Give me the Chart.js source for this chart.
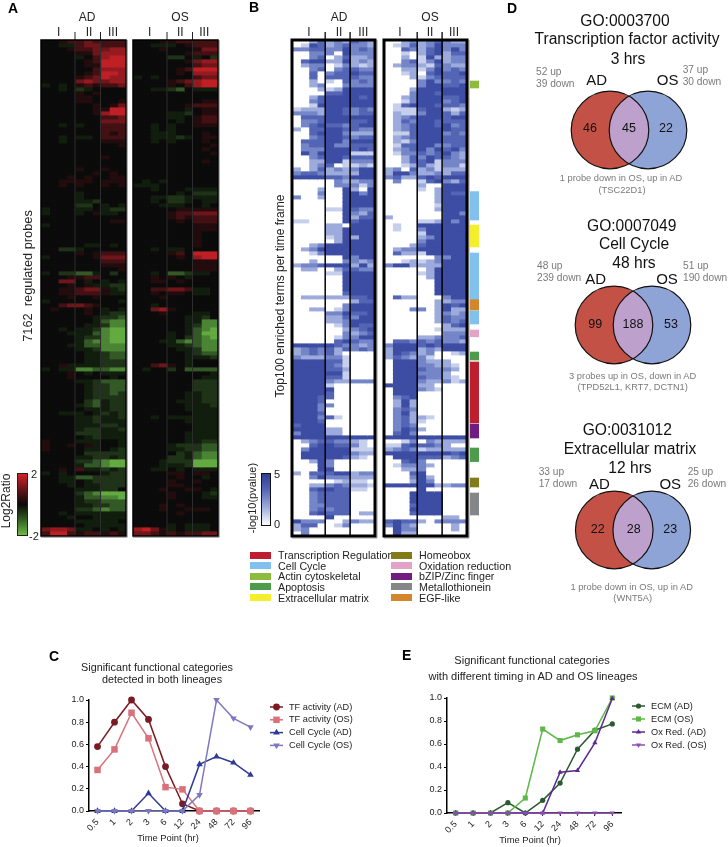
<!DOCTYPE html>
<html>
<head>
<meta charset="utf-8">
<title>Regulated probes and enriched terms</title>
<script src="https://cdn.jsdelivr.net/npm/chart.js@4"></script>
<style>
html, body { margin: 0; padding: 0; background: #fff; }
#page { position: relative; width: 728px; height: 847px; overflow: hidden; font-family: "Liberation Sans", Arial, sans-serif; color: #222; filter: blur(0.35px); }
#page canvas { position: absolute; }
.lbl { position: absolute; white-space: pre; line-height: 1; }
.box { position: absolute; }
</style>
</head>
<body>
<div id="page"></div>
<script>
// Time points shared by every panel
const timePoints = ["0.5", "1", "2", "3", "6", "12", "24", "48", "72", "96"];

// Panel A: log2 ratio per probe block, one char per time point
// "." = 0, 1-5 = up (red), a-e = down (green)
const adRatioRows = [
  "..12232222", "..aa233222", "...1223344", "....113444", "....a.2455", ".....12555", ".....11555", "......2444",
  ".....12554", "....123544", "....343344", "a.a.121223", "..a.ba....", "....1.1...", "....11....", "....11...1",
  "......1.13", "......1155", "......1455", ".......223", ".......333", "..a.a..222", ".......222", ".......212",
  "..a.aa.222", "..a....111", ".........1", "..........", "..........", ".......1..", "..........", "..........",
  "....1..1..", "......1.1.", "...1.1..11", "..1111.111", "..1.1..1.1", "..........", "....a.....", "....a.....",
  "....aab...", "....bb.a.a", "a...aa.abb", "a...a.1aa.", "..........", "........11", "a.........", "..........",
  "..........", "..........", "..........", ".....aa.a.", "..bba.....", "....1.1222", "a.....1333", ".......222",
  ".......111", ".........1", "a.bbcca.b.", "...1122...", "..33.a.a.a", "...1.1aabb", "..112331ab", "..112221aa",
  "...1..1...", "a........a", "..23321...", ".1...1.a.a", ".....1.abb", "......abbc", "......acdd", ".....aabdd",
  "..a.aabdee", "...aaacdee", "....abbdee", "....acddee", "...aaccddd", "....aabddd", ".....aabcc", ".....aabcc",
  ".....aabbb", "..1aaaabbb", "a.aaddccdd", "...1.a.aaa", "...1....a.", "....aabccc", ".....abbcc", ".....abbcc",
  ".....abbcb", ".....abbbb", ".....bcabb", "....abcabb", ".....aaabb", "..aaa.abab", "....aabaab", "....aabaaa",
  "....aaabba", "....abbaab", "....bbbaaa", ".....abaaa", "1...aaa..a", "1..1.1a..a", "1....aa.ab", ".....bbbbb",
  "....aabbab", "....bbcdee", "....accdee", "..1.2aabab", "a.a....abb", "..aaccbbbb", "..aa.abbbb", "...a.aabbb",
  "....aaabb.", "....bcdeee", "....accdde", "....abbccc", "....aabbcc", "....bbcdcc", "..a.aaaaaa", "...a..aaaa",
  "....aaaaa.", ".....aaaaa", "3443aa.a.a", "2552122121"
];
const osRatioRows = [
  "...1122222", "..aaa.1222", "...1...133", "......1222", "....bb.a.b", "......1344", ".......233", ".....12555",
  ".....1.444", "a.a....233", "....123455", "....1.2455", "..aabc.aaa", "..........", "..........", "........11",
  "......1222", "......a.11", "....aab.11", "....aa.122", ".....a.122", "..a.a..111", "..a.a.....", "..aaa...1.",
  "..aaaba.11", "..a.a...1.", ".........1", "........1.", ".........1", "..........", "........1.", "..........",
  "..........", "..........", "..........", ".a.a......", "aaa.......", "..a...aaaa", ".....a.bbb", "..aabbaaaa",
  "..a.bba.aa", "...aaa..a.", ".....11111", "....122333", "....121222", ".....1.222", ".......111", ".......111",
  ".......1..", ".......1..", ".......1..", ".......1..", "..a.aa....", "....12.555", ".....1.455", ".......111",
  ".......111", ".......111", "..a.ccbaa.", "..1.1.a...", "..11.1....", "..........", "..22332aa.", "..1.11.aa.",
  "...1......", "..........", "..a.......", "..341.....", "...1...aa.", "......aab.", "......aadd", "......abdd",
  "......acde", "....a.acee", "....a.bcde", "...aacdcdd", "....aabcdd", ".....aabdd", "......abcc", "......aaab",
  "......a...", "..231.a...", ".a..b.cccc", ".........a", "........aa", ".......bbb", ".......bbb", ".......bbb",
  "......aabb", "......aabb", ".....aaabb", "......aaab", "......aaaa", ".......aaa", "..a.aaaaaa", "......aaaa",
  ".......aaa", ".......aaa", "......aaaa", "......aaaa", "......aabb", "....abbbcc", "....aabbcc", ".....bacdd",
  "....bbacdd", "...abbbeee", "...aaabeee", "..aa.a.aaa", "....11.11.", ".....1..a.", "....1..1..", "....11....",
  "...1..11.a", "....1...ab", "....1...aa", "..........", "...1.1....", "...1..111.", ".....1....", "..........",
  "..........", "....a.aaa.", "4531a.aaa.", "3321212233"
];

// Panel B: -log10(pvalue) per term block, 0-5
const adPvalueRows = [
  "0024232432", "0154234332", "3344335343", "0033305333", "0034024223", "0455225232", "0233013212", "0034034433",
  "0040344544", "0040444433", "0020104343", "0023003333", "0002125555", "0000445555", "0024555545", "0034555555",
  "0015555555", "1222554343", "3332554344", "0444555555", "0334555445", "0345443455", "2044554433", "0045553222",
  "0034554344", "0444553555", "0344533444", "0333555454", "0535555111", "0034554444", "0022551333", "0023401121",
  "2024232355", "3443222255", "5555443555", "0000032233", "0000033313", "0002005205", "0003005535", "3002005555",
  "0000005555", "0000005555", "0000115433", "0000005324", "0000005244", "1100005455", "0000220555", "0000225555",
  "0000225555", "0000125255", "0000025555", "0023555555", "0235555555", "0013555555", "0000005355", "0020003323",
  "2334555252", "0220024433", "0000115555", "0000005555", "0000005555", "0000005555", "0000005555", "0000004555",
  "0222222445", "0000000244", "0000003555", "0022013555", "0000335445", "0000224355", "0000223555", "0000013544",
  "0000002345", "0000003234", "0000013355", "0000045433", "5555543323", "2343424343", "2343420000", "3222331000",
  "5555441000", "5555431000", "5555442000", "5555551000", "5555441000", "5555322333", "5555100000", "5555500000",
  "5555400000", "5554400000", "5554000000", "5553300000", "5553000000", "5554000000", "5553410000", "5554000000",
  "4555000000", "5555220000", "3555220000", "5555555555", "0234433210", "0045544310", "0355555111", "0555555322",
  "0555554210", "0025300000", "0005300000", "0005500000", "2044455233", "0035333222", "0000012110", "0022343221",
  "0045544110", "0034444000", "0034444000", "0034444000", "0033444000", "0034344000", "0045444022", "0000500000",
  "5333002322", "2440013000", "2300000000", "0300000000"
];
const osPvalueRows = [
  "0023234322", "0124235333", "0043245353", "0010245244", "0020152233", "0034135233", "0233214322", "0022135343",
  "0012045445", "0002134444", "0000353343", "0000355445", "0002555555", "0003554555", "0023555445", "0013555345",
  "0145554443", "0111455212", "0211355424", "0234555455", "0243554444", "0234554534", "0234555544", "0114555343",
  "0234555444", "0213555444", "0144553344", "0234535453", "0133434532", "0024354432", "0024451333", "0012421331",
  "2304231222", "2553223244", "3422454555", "0300145324", "0000200555", "0000102555", "0000002544", "0000002555",
  "0000002555", "0000001555", "0000002555", "0000000553", "2000000555", "0000112535", "0100555555", "0100355555",
  "0000155555", "0000235555", "0000355555", "0002455555", "0233555555", "0422155555", "0000003355", "0012123555",
  "3552222555", "0000025555", "0000125555", "0000025555", "0000005555", "0000005555", "0000005555", "0000005555",
  "0422000355", "0000002233", "0000002545", "0003302522", "0000002323", "0000002433", "0000002434", "0000000245",
  "0000001222", "0000000333", "0000223334", "0443434332", "3555454555", "2555232555", "2543230012", "2432310000",
  "0555322200", "0555332210", "0555433320", "0555333200", "0555433210", "0555322312", "5555220000", "0555321000",
  "0555000000", "0345000000", "0252000000", "0252000000", "0343000000", "0352000000", "0342210000", "0342100000",
  "0343000000", "0354200000", "0453000000", "5555555555", "0013032222", "1145443200", "2343122222", "5555555545",
  "0555444234", "0045300000", "0133320000", "0022300000", "0004500000", "0003520000", "0002530000", "5555552233",
  "0000500000", "0005555000", "0005555000", "0005555000", "0004555000", "0005555000", "0004555000", "0000000220",
  "4544203333", "3532000020", "0533000020", "0522000000"
];

// Panel B side annotation: term category and the row range it spans
const bandNames = ["Actin cytoskeletal", "Cell Cycle", "Extracellular matrix", "Cell Cycle", "EGF-like", "Cell Cycle", "Oxidation reduction", "Apoptosis", "Transcription Regulation", "bZIP/Zinc finger", "Apoptosis", "Homeobox", "Metallothionein"];
const bandRanges = [[10.25, 12], [37.9, 45], [46.25, 51.75], [53.25, 64.75], [64.75, 67.5], [67.7, 71], [72.5, 74.2], [78, 80], [80.5, 95.7], [96, 99.5], [102, 105.4], [109.5, 111.75], [113.25, 118.75]];
const termLegendLeft = ["Transcription Regulation", "Cell Cycle", "Actin cytoskeletal", "Apoptosis", "Extracellular matrix"];
const termLegendRight = ["Homeobox", "Oxidation reduction", "bZIP/Zinc finger", "Metallothionein", "EGF-like"];

// Panel C series
const tfActivityAd = [0.58, 0.80, 1.0, 0.825, 0.40, 0.065, 0, 0, 0, 0];
const tfActivityOs = [0.37, 0.555, 0.885, 0.655, 0.215, 0.195, 0, 0, 0, 0];
const cellCycleAd = [0, 0, 0, 0.16, 0, 0, 0.42, 0.49, 0.435, 0.325];
const cellCycleOs = [0, 0, 0, 0, 0, 0, 0.145, 1, 0.835, 0.755];

// Panel E series
const ecmAd = [0, 0, 0, 0.09, 0, 0.11, 0.26, 0.555, 0.72, 0.775];
const ecmOs = [0, 0, 0, 0, 0.13, 0.73, 0.63, 0.68, 0.715, 1];
const oxRedAd = [0, 0, 0, 0, 0, 0, 0.355, 0.37, 0.61, 0.995];
const oxRedOs = [0, 0, 0, 0, 0, 0, 0, 0, 0, 0];

// Panel D venn counts
const vennAdOnly = [46, 99, 22];
const vennShared = [45, 188, 28];
const vennOsOnly = [22, 53, 23];

const termColors = {
  "Transcription Regulation": "#BE1E2D", "Cell Cycle": "#82C0EE", "Actin cytoskeletal": "#8DBB3E", "Apoptosis": "#4C9C4C",
  "Extracellular matrix": "#F5EE2C", "Homeobox": "#817C17", "Oxidation reduction": "#E3A3C7", "bZIP/Zinc finger": "#711C80",
  "Metallothionein": "#858688", "EGF-like": "#D4862C"
};
const ratioColors = {
  ".": "#0b0b0b", "1": "#220c0d", "2": "#431113", "3": "#6e1619", "4": "#961b20", "5": "#bf2026",
  "a": "#111d0d", "b": "#1f3318", "c": "#335a26", "d": "#4b8434", "e": "#63ab40"
};
const pvalueColors = { "0": "#ffffff", "1": "#c6cfeb", "2": "#9dabdc", "3": "#7485c8", "4": "#5365b4", "5": "#3d4da3" };

Chart.defaults.animation = false;
Chart.defaults.responsive = false;
Chart.defaults.font.family = '"Liberation Sans", Arial, sans-serif';

const page = document.getElementById("page");

function label(str, x, y, size, opts) {
  opts = opts || {};
  const el = document.createElement("div");
  el.className = "lbl";
  el.textContent = str;
  el.style.left = x + "px";
  el.style.top = y + "px";
  el.style.fontSize = size + "px";
  if (opts.color) el.style.color = opts.color;
  if (opts.bold) el.style.fontWeight = "bold";
  let tf = "translateY(-50%)";
  if (opts.center) tf = "translate(-50%,-50%)";
  if (opts.rotate) tf = "translate(-50%,-50%) rotate(-90deg)";
  el.style.transform = tf;
  page.appendChild(el);
}

function box(x, y, w, h, background, extra) {
  const el = document.createElement("div");
  el.className = "box";
  el.style.cssText = `left:${x}px;top:${y}px;width:${w}px;height:${h}px;background:${background};${extra || ""}`;
  page.appendChild(el);
}

function addCanvas(x, y, w, h) {
  const c = document.createElement("canvas");
  c.width = w;
  c.height = h;
  c.style.left = x + "px";
  c.style.top = y + "px";
  page.appendChild(c);
  return c;
}

// separators between the I / II / III windows plus the panel frame
const heatFrame = {
  id: "heatFrame",
  afterDatasetsDraw(chart, args, o) {
    const { ctx, chartArea: a, scales } = chart;
    ctx.save();
    ctx.lineWidth = o.sepWidth;
    [4, 7].forEach(col => {
      const x = scales.x.getPixelForValue(col);
      ctx.beginPath();
      ctx.moveTo(x, a.top - 8);
      ctx.lineTo(x, a.top);
      ctx.strokeStyle = "#222";
      ctx.stroke();
      ctx.beginPath();
      ctx.moveTo(x, a.top);
      ctx.lineTo(x, a.bottom);
      ctx.strokeStyle = o.sepColor;
      ctx.stroke();
    });
    ctx.strokeStyle = "#999";
    ctx.lineWidth = 1;
    ctx.beginPath();
    ctx.moveTo(a.right + o.frameWidth / 2 + 0.5, a.top);
    ctx.lineTo(a.right + o.frameWidth / 2 + 0.5, a.bottom + o.frameWidth / 2 + 0.5);
    ctx.lineTo(a.left, a.bottom + o.frameWidth / 2 + 0.5);
    ctx.stroke();
    ctx.strokeStyle = "#000";
    ctx.lineWidth = o.frameWidth;
    ctx.strokeRect(a.left, a.top, a.right - a.left, a.bottom - a.top);
    ctx.restore();
  }
};

function heatmap(x, w, rows, colors, frame) {
  const canvas = addCanvas(x - 4, 30, w + 8, 510);
  const labels = rows.map((r, i) => i);
  new Chart(canvas, {
    type: "bar",
    data: {
      labels: labels,
      datasets: timePoints.map((t, col) => ({
        label: t,
        data: rows.map(() => 1),
        backgroundColor: rows.map(r => colors[r[col]]),
        borderWidth: 0,
        inflateAmount: 0.6,
        barPercentage: 1,
        categoryPercentage: 1
      }))
    },
    options: {
      indexAxis: "y",
      layout: { padding: { left: 4, right: 4, top: 10, bottom: 4 } },
      scales: {
        x: { stacked: true, display: false, min: 0, max: timePoints.length },
        y: { stacked: true, display: false }
      },
      plugins: { legend: { display: false }, tooltip: { enabled: false }, heatFrame: frame }
    },
    plugins: [heatFrame]
  });
  return canvas;
}

const ratioFrame = { sepColor: "#2e2e2e", sepWidth: 1, frameWidth: 1.5 };
const pvalueFrame = { sepColor: "#000", sepWidth: 1.5, frameWidth: 3 };
heatmap(41, 85, adRatioRows, ratioColors, ratioFrame).style.filter = "blur(0.6px)";
heatmap(133, 85, osRatioRows, ratioColors, ratioFrame).style.filter = "blur(0.6px)";
heatmap(292, 83, adPvalueRows, pvalueColors, pvalueFrame);
heatmap(384, 83, osPvalueRows, pvalueColors, pvalueFrame);

// side annotation bars
new Chart(addCanvas(470, 40, 9, 496), {
  type: "bar",
  data: {
    labels: ["terms"],
    datasets: bandNames.map((n, i) => ({
      label: n,
      data: [bandRanges[i]],
      backgroundColor: termColors[n],
      grouped: false,
      barPercentage: 1,
      categoryPercentage: 1
    }))
  },
  options: {
    scales: {
      x: { display: false },
      y: { display: false, reverse: true, min: 0, max: adPvalueRows.length }
    },
    plugins: { legend: { display: false }, tooltip: { enabled: false } }
  }
});

// line + marker key to the right of the plot
const lineKey = {
  id: "lineKey",
  afterDraw(chart, args, o) {
    const { ctx, chartArea: a } = chart;
    ctx.save();
    chart.data.datasets.forEach((d, i) => {
      const y = o.y + i * o.step;
      const x0 = a.right + o.gap;
      ctx.strokeStyle = d.borderColor;
      ctx.fillStyle = d.borderColor;
      ctx.lineWidth = 1.5;
      ctx.beginPath();
      ctx.moveTo(x0, y);
      ctx.lineTo(x0 + o.len, y);
      ctx.stroke();
      Chart.helpers.drawPoint(ctx, { pointStyle: d.pointStyle, radius: d.pointRadius, rotation: d.pointRotation || 0, borderWidth: 0 }, x0 + o.len / 2, y);
      ctx.fillStyle = "#222";
      ctx.font = '9.2px "Liberation Sans", Arial, sans-serif';
      ctx.textBaseline = "middle";
      ctx.fillText(d.label, x0 + o.len + 6, y);
    });
    ctx.restore();
  }
};

function series(name, values, color, style, radius, rotation, order) {
  return {
    label: name, data: values, borderColor: color, backgroundColor: color,
    borderWidth: 1.5, pointStyle: style, pointRadius: radius, pointRotation: rotation || 0,
    pointBorderWidth: 0, tension: 0, clip: false, order: order
  };
}

function lineChart(x, y, w, h, yWidth, xHeight, padRight, padTop, datasets, key) {
  new Chart(addCanvas(x, y, w, h), {
    type: "line",
    data: { labels: timePoints, datasets: datasets },
    options: {
      layout: { autoPadding: false, padding: { top: padTop, right: padRight, left: 0, bottom: 0 } },
      scales: {
        x: {
          offset: true,
          afterFit(s) { s.height = xHeight; },
          grid: { drawOnChartArea: false, color: "#000", tickLength: 3, tickWidth: 1 },
          border: { color: "#000", width: 1.5 },
          ticks: { color: "#222", font: { size: 9 }, minRotation: 45, maxRotation: 45, autoSkip: false, padding: 3 }
        },
        y: {
          min: 0, max: 1,
          afterFit(s) { s.width = yWidth; },
          grid: { drawOnChartArea: false, color: "#000", tickLength: 3, tickWidth: 1 },
          border: { color: "#000", width: 1.5 },
          ticks: { color: "#222", font: { size: 9 }, stepSize: 0.2, padding: 2, callback: v => v.toFixed(1) }
        }
      },
      plugins: { legend: { display: false }, tooltip: { enabled: false }, lineKey: key }
    },
    plugins: [lineKey]
  });
}

lineChart(60, 690, 330, 157, 29, 36, 131, 10, [
  series("TF activity (AD)", tfActivityAd, "#7B1A22", "circle", 3.4, 0, 3),
  series("TF activity (OS)", tfActivityOs, "#D9717A", "rect", 4.6, 0, 2),
  series("Cell Cycle (AD)", cellCycleAd, "#2E3A96", "triangle", 3.8, 0, 1),
  series("Cell Cycle (OS)", cellCycleOs, "#7C79C0", "triangle", 3.8, 180, 0)
], { y: 17, step: 12.8, gap: 11, len: 13 });

lineChart(417, 688, 300, 159, 30, 34, 96, 10, [
  series("ECM (AD)", ecmAd, "#2A5A2F", "circle", 2.6, 0, 3),
  series("ECM (OS)", ecmOs, "#5DB848", "rect", 3.6, 0, 2),
  series("Ox Red. (AD)", oxRedAd, "#5B2A8E", "triangle", 3, 0, 1),
  series("Ox Red. (OS)", oxRedOs, "#8A4FB0", "triangle", 3, 180, 0)
], { y: 18, step: 13, gap: 11, len: 13 });

// two overlapping circles, the lens gets its own fill
const vennLens = {
  id: "vennLens",
  afterDatasetsDraw(chart) {
    const { ctx } = chart;
    const ad = chart.getDatasetMeta(0).data[0];
    const os = chart.getDatasetMeta(1).data[0];
    const r = ad.options.radius;
    ctx.save();
    ctx.beginPath();
    ctx.arc(ad.x, ad.y, r, 0, Math.PI * 2);
    ctx.clip();
    ctx.beginPath();
    ctx.arc(os.x, os.y, r, 0, Math.PI * 2);
    ctx.fillStyle = "#BDA1CC";
    ctx.fill();
    ctx.restore();
    ctx.save();
    ctx.strokeStyle = "#111";
    ctx.lineWidth = 1.2;
    [ad, os].forEach(p => {
      ctx.beginPath();
      ctx.arc(p.x, p.y, r, 0, Math.PI * 2);
      ctx.stroke();
    });
    ctx.restore();
  }
};

function venn(cx, cy, gap) {
  // the x range leaves a margin so both circles stay inside the canvas
  new Chart(addCanvas(cx - gap * 1.5, cy - 45, gap * 4, 90), {
    type: "bubble",
    data: {
      datasets: [
        { label: "AD", data: [{ x: 0, y: 0 }], radius: 38.8, backgroundColor: "#C45145", borderWidth: 0, clip: false },
        { label: "OS", data: [{ x: 1, y: 0 }], radius: 38.8, backgroundColor: "#8FA4D6", borderWidth: 0, clip: false }
      ]
    },
    options: {
      layout: { autoPadding: false },
      scales: {
        x: { display: false, min: -1.5, max: 2.5 },
        y: { display: false, min: -1, max: 1 }
      },
      plugins: { legend: { display: false }, tooltip: { enabled: false } }
    },
    plugins: [vennLens]
  });
}
venn(609.5, 130, 38);
venn(614.3, 325, 38);
venn(614, 530.3, 37.5);

// ---- text ----
const grey = "#7a7a7a";
label("A", 8, 8, 14, { bold: true, color: "#000" });
label("B", 249, 7, 14, { bold: true, color: "#000" });
label("D", 507, 8, 14, { bold: true, color: "#000" });
label("C", 49, 656, 14, { bold: true, color: "#000" });
label("E", 402, 655, 14, { bold: true, color: "#000" });

[[87, 180], [339, 430]].forEach(p => {
  label("AD", p[0], 17, 12, { center: true });
  label("OS", p[1], 17, 12, { center: true });
});
[[58.7, 89, 113], [149.7, 180.3, 204.3], [309, 339, 363.3], [400, 430, 454]].forEach(p => {
  label("I", p[0], 32, 12, { center: true });
  label("II", p[1], 32, 12, { center: true });
  label("III", p[2], 32, 12, { center: true });
});

label("7162  regulated probes", 28, 276, 12.8, { rotate: true });
label("Log2Ratio", 6, 501, 12, { rotate: true });
box(18, 474, 9, 61, "linear-gradient(#d2232a 0%,#5a1416 28%,#0a0a0a 50%,#2d5220 72%,#6dbb45 100%)", "outline:1px solid #222;");
label("2", 31, 474, 11, {});
label("-2", 29, 536, 11, {});

label("Top100 enriched terms per time frame", 280, 296, 12, { rotate: true });
label("-log10(pvalue)", 252, 498, 11, { rotate: true });
box(262, 474, 8, 51, "linear-gradient(#2f3d96 0%,#5365b4 30%,#9dabdc 65%,#ffffff 100%)", "outline:1.5px solid #111;");
label("5", 274, 474, 11, {});
label("0", 274, 524, 11, {});

termLegendLeft.forEach((n, i) => {
  const y = 555 + i * 10.65;
  box(250, y - 3.5, 21, 7, termColors[n]);
  label(n, 278, y, 10.7, {});
});
termLegendRight.forEach((n, i) => {
  const y = 555 + i * 10.65;
  box(391, y - 3.5, 21, 7, termColors[n]);
  label(n, 419, y, 10.7, {});
});

// panel D captions
const vennText = [
  { title: [["GO:0003700", 625, 20.7], ["Transcription factor activity", 627, 39], ["3 hrs", 628, 59]],
    leftNote: ["52 up", "39 down", 536, 71.7], rightNote: ["37 up", "30 down", 682.7, 69.5],
    names: [596.7, 667.7, 79], counts: [590, 629, 666, 128],
    foot: [["1 probe down in OS, up in AD", 621, 179], ["(TSC22D1)", 622, 190.7]] },
  { title: [["GO:0007049", 631.7, 225.7], ["Cell Cycle", 634, 244], ["48 hrs", 634, 263]],
    leftNote: ["48 up", "239 down", 537, 265.7], rightNote: ["51 up", "190 down", 683, 265.7],
    names: [595.7, 667, 277.7], counts: [595.3, 633, 671, 324],
    foot: [["3 probes up in OS, down in AD", 632.7, 376.7], ["(TPD52L1, KRT7, DCTN1)", 632.7, 388]] },
  { title: [["GO:0031012", 627.3, 430], ["Extracellular matrix", 630, 449], ["12 hrs", 630, 467.7]],
    leftNote: ["33 up", "17 down", 538.7, 472], rightNote: ["25 up", "26 down", 687.7, 472],
    names: [599.3, 670.3, 483.3], counts: [597.7, 633.7, 670.3, 529],
    foot: [["1 probe down in OS, up in AD", 631.7, 588], ["(WNT5A)", 632.7, 599]] }
];
vennText.forEach((v, i) => {
  v.title.forEach(t => label(t[0], t[1], t[2], 15.6, { center: true, color: "#111" }));
  [v.leftNote, v.rightNote].forEach(n => {
    label(n[0], n[2], n[3], 10.2, { color: grey });
    label(n[1], n[2], n[3] + 12, 10.2, { color: grey });
  });
  label("AD", v.names[0], v.names[2], 15, { center: true, color: "#111" });
  label("OS", v.names[1], v.names[2], 15, { center: true, color: "#111" });
  label(String(vennAdOnly[i]), v.counts[0], v.counts[3], 12.5, { center: true, color: "#111" });
  label(String(vennShared[i]), v.counts[1], v.counts[3], 12.5, { center: true, color: "#111" });
  label(String(vennOsOnly[i]), v.counts[2], v.counts[3], 12.5, { center: true, color: "#111" });
  v.foot.forEach(t => label(t[0], t[1], t[2], 9.3, { center: true, color: grey }));
});

// panel C / E captions
label("Significant functional categories", 157, 667, 10.8, { center: true });
label("detected in both lineages", 162, 679, 10.8, { center: true });
label("Time Point (hr)", 168, 838, 9.4, { center: true });
label("Significant functional categories", 532, 661, 11.05, { center: true });
label("with different timing in AD and OS lineages", 533, 677, 11.05, { center: true });
label("Time Point (hr)", 530, 840, 9.4, { center: true });
</script>
</body>
</html>
